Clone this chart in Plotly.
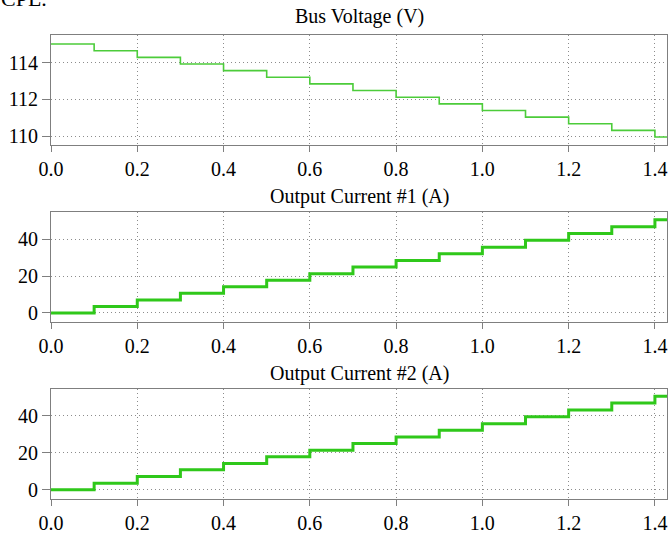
import plotly.graph_objects as go

# Data
t_steps = [0.0, 0.1, 0.2, 0.3, 0.4, 0.5, 0.6, 0.7, 0.8, 0.9, 1.0, 1.1, 1.2, 1.3, 1.4, 1.43]
bus_voltage = [115.0, 114.64, 114.28, 113.92, 113.56, 113.2, 112.84, 112.48, 112.12,
               111.76, 111.4, 111.04, 110.68, 110.32, 109.96, 109.96]
current_1 = [0.0, 3.5, 7.1, 10.7, 14.2, 17.8, 21.3, 24.9, 28.5, 32.1, 35.7, 39.4, 43.1, 46.8, 50.5, 50.5]
current_2 = [0.0, 3.5, 7.1, 10.7, 14.2, 17.8, 21.3, 24.9, 28.5, 32.1, 35.7, 39.4, 43.1, 46.8, 50.5, 50.5]
titles = ["Bus Voltage (V)", "Output Current #1 (A)", "Output Current #2 (A)"]
x_ticks = [0.0, 0.2, 0.4, 0.6, 0.8, 1.0, 1.2, 1.4]
v_ticks = [110, 112, 114]
i_ticks = [0, 20, 40]

H = 534
W = 668
FONT = "Liberation Serif"
GREEN_V = "#4ccc3a"
GREEN_I = "#2fc81a"
FRAME = "#7f7f7f"
GRID = "#8c8c8c"

def dom(top_px, bot_px):
    return [1 - bot_px / H, 1 - top_px / H]

panels = [
    dict(dom=dom(35, 145), y=bus_voltage, rng=[109.53, 115.49], ticks=v_ticks, width=1.6, color=GREEN_V, title_y=17),
    dict(dom=dom(212.3, 322), y=current_1, rng=[-4.9, 54.6], ticks=i_ticks, width=3, color=GREEN_I, title_y=196),
    dict(dom=dom(388.7, 498.7), y=current_2, rng=[-4.9, 54.6], ticks=i_ticks, width=3, color=GREEN_I, title_y=373),
]

fig = go.Figure()
annotations = []
for i, p in enumerate(panels):
    n = "" if i == 0 else str(i + 1)
    fig.add_trace(go.Scatter(x=t_steps, y=p["y"], mode="lines", line_shape="hv",
                             line=dict(color=p["color"], width=p["width"]),
                             xaxis="x" + n, yaxis="y" + n, showlegend=False, hoverinfo="skip"))
    axis_common = dict(showline=True, mirror=True, linecolor=FRAME, linewidth=1,
                       showgrid=True, gridcolor=GRID, gridwidth=1, griddash="1px,3px",
                       zeroline=False, ticks="outside", tickcolor=FRAME, tickwidth=1,
                       tickfont=dict(family=FONT, size=20, color="black"), automargin=False)
    fig.layout["xaxis" + n] = dict(axis_common, domain=[0, 1], anchor="y" + n,
                                   range=[0, 1.428], tickvals=x_ticks, tickformat=".1f",
                                   ticklen=6)
    fig.layout["yaxis" + n] = dict(axis_common, domain=p["dom"], anchor="x" + n,
                                   range=p["rng"], tickvals=p["ticks"], ticklen=8)
    annotations.append(dict(text=titles[i], xref="paper", yref="paper", x=0.5,
                            y=1 - p["title_y"] / H, xanchor="center", yanchor="middle",
                            showarrow=False, font=dict(family=FONT, size=20, color="black")))

annotations.append(dict(text="CPL.", xref="paper", yref="paper", x=-51 / 616, y=1 - 12 / H,
                        xanchor="left", yanchor="bottom", showarrow=False, borderpad=0,
                        font=dict(family=FONT, size=22, color="black")))

fig.update_layout(width=W, height=H, margin=dict(l=51, r=1, t=0, b=0),
                  paper_bgcolor="white", plot_bgcolor="white",
                  annotations=annotations)

fig.write_html("out.html")
